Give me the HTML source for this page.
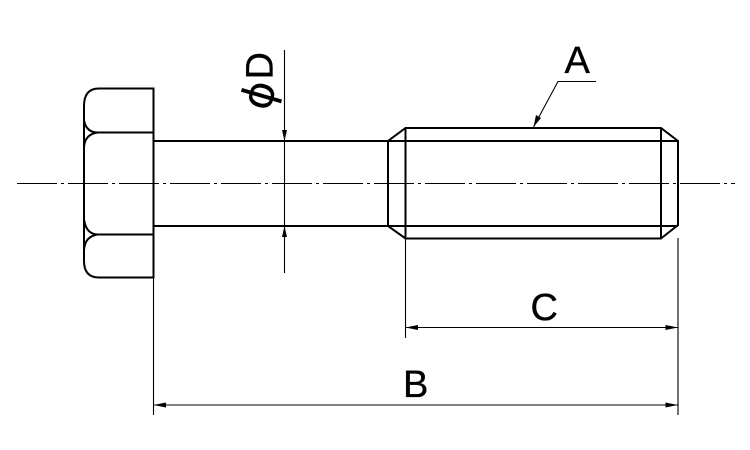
<!DOCTYPE html>
<html>
<head>
<meta charset="utf-8">
<style>
html,body{margin:0;padding:0;background:#fff;width:750px;height:450px;overflow:hidden}
svg{display:block}
text{font-family:"Liberation Sans",sans-serif;font-size:38px;fill:#000;stroke:#000;stroke-width:.35}
</style>
</head>
<body>
<svg width="750" height="450" viewBox="0 0 750 450" xmlns="http://www.w3.org/2000/svg">
<rect width="750" height="450" fill="#fff"/>
<!-- center line -->
<path d="M17 183.500H735" stroke="#000" stroke-width="1" fill="none" stroke-dasharray="40 4 3 4"/>
<!-- head -->
<g fill="none" stroke="#000" stroke-width="2">
<path d="M153.500 88.500H99Q84 88.500 84 106V261Q84 277.500 99 277.500H153.500V88.500Z"/>
<path d="M84 120Q86 132.500 98 132.500H153.500"/>
<path d="M98 132.500Q85 134 84 147"/>
<path d="M84 219Q86 234.500 98 234.500H153.500"/>
<path d="M98 234.500Q85 236 84 250"/>
<!-- shank -->
<path d="M153.500 141H388M153.500 226H388"/>
<!-- thread -->
<path d="M388 226V141L405.500 128H661L678 141V225L661 238.500H405.500L388 226Z"/>
<path d="M405.500 128V238.500M661 128V238.500"/>
<path d="M388 141H678M388 226H678"/>
</g>
<!-- dimension lines -->
<g fill="none" stroke="#000" stroke-width="1.100">
<path d="M153.500 278V415M405.500 238V338M678 238V415"/>
<path d="M153.500 405H678M405.500 327.500H678"/>
<path d="M284.500 50V273"/>
<path d="M533.500 127L558 81.500H596"/>
</g>
<!-- arrowheads -->
<g fill="#000">
<path d="M153.500 405L166 402.500V407.500Z"/>
<path d="M678 405L665.500 402.500V407.500Z"/>
<path d="M405.500 327.500L418 325V330Z"/>
<path d="M678 327.500L665.500 325V330Z"/>
<path d="M284.500 141L282 130H287Z"/>
<path d="M284.500 226L282 237H287Z"/>
<path d="M533.500 127L536 115L541 118Z"/>
</g>
<!-- labels -->
<text x="564.500" y="73">A</text>
<text x="403" y="397">B</text>
<text x="530.500" y="320">C</text>
<text transform="translate(272.500 79.500) rotate(-90)" x="0" y="0">D</text>
<text transform="translate(269 112.500) rotate(-74)" x="0" y="0" style="font-family:'DejaVu Sans',sans-serif;font-size:43px;stroke:none">ϕ</text>
</svg>
</body>
</html>
